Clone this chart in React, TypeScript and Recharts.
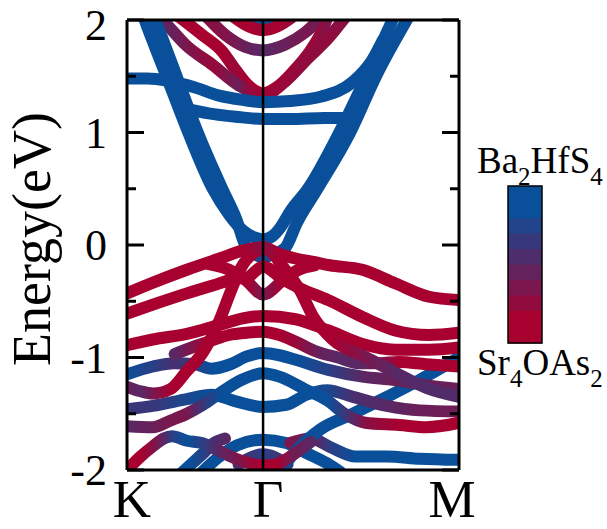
import React from 'react';
import { LineChart, Line, XAxis, YAxis, ReferenceLine } from 'recharts';

// point = [k-path position, energy (eV), Ba2HfS4 weight (0 = Sr4OAs2, 1 = Ba2HfS4)]
type P = [number, number, number];

const kTicks = [0, 1, 2.44];
const kLabels = ['K', 'Γ', 'M'];
const eTicks = [-2, -1.5, -1, -0.5, 0, 0.5, 1, 1.5, 2];
const colorbarWeights = [1, 6 / 7, 5 / 7, 4 / 7, 3 / 7, 2 / 7, 1 / 7, 0];

// conduction bands
const cbDiracA: P[] = [[0.115,2.05,1],[0.13,2.0,1],[0.29,1.5,1],[0.45,1.0,1],[0.63,0.5,1],[0.75,0.27,1],[0.85,0.13,1],[0.93,0.07,1],[1.0,0.05,1],[1.07,0.08,1],[1.13,0.16,1],[1.2,0.3,1],[1.33,0.5,1],[1.56,1.0,1],[1.76,1.5,1],[1.97,2.05,1]];
const cbDiracB: P[] = [[0.195,2.05,1],[0.21,2.0,1],[0.365,1.5,1],[0.52,1.0,1],[0.7,0.5,1],[0.8,0.24,1],[0.88,-0.03,1],[0.95,-0.09,0.9],[1.0,-0.11,0.75],[1.06,-0.09,0.9],[1.16,-0.03,1],[1.25,0.2,1],[1.4,0.5,1],[1.64,1.0,1],[1.83,1.5,1],[2.08,2.05,1]];
const cbFlatUp: P[] = [[0,1.48,1],[0.15,1.48,1],[0.3,1.46,1],[0.5,1.4,1],[0.67,1.33,1],[0.85,1.29,1],[1.0,1.27,1],[1.2,1.28,1],[1.43,1.32,1],[1.66,1.45,1],[1.8,1.64,1],[1.88,1.82,1]];
const cbFlatLow: P[] = [[0.47,1.2,1],[0.6,1.17,1],[0.8,1.14,1],[1.0,1.12,1],[1.2,1.12,1],[1.45,1.13,1],[1.62,1.13,1]];
const cbRed1: P[] = [[0.22,2.05,0.1],[0.3,1.95,0.45],[0.43,1.78,0.3],[0.63,1.6,0.1],[0.82,1.42,0.4],[0.9,1.37,0.1],[1.0,1.33,0.05],[1.16,1.45,0.1],[1.33,1.66,0.15],[1.48,1.84,0.15],[1.62,2.05,0.2]];
const cbRed2: P[] = [[0.36,2.05,0],[0.55,1.87,0],[0.7,1.72,0],[0.79,1.57,0.1],[0.89,1.42,0],[1.0,1.35,0],[1.12,1.42,0],[1.25,1.58,0.1],[1.36,1.75,0.1],[1.45,1.95,0.2],[1.48,2.05,0.3]];
const cbRedU1: P[] = [[0.57,2.05,0.2],[0.72,1.87,0.25],[0.87,1.76,0.4],[1.0,1.73,0.5],[1.16,1.78,0.4],[1.31,1.89,0.3],[1.45,2.05,0.4]];
const cbRedU2: P[] = [[0.76,2.05,0],[0.9,1.94,0],[1.0,1.91,0.05],[1.1,1.94,0],[1.24,2.05,0.1]];
const cbBlueTop: P[] = [[0.9,2.08,1],[1.0,1.99,1],[1.1,2.08,1]];

// valence bands
const vbA: P[] = [[0,-0.43,0],[0.2,-0.33,0],[0.44,-0.22,0],[0.68,-0.12,0],[0.85,-0.05,0],[1.0,-0.02,0.2],[1.12,-0.08,0],[1.24,-0.12,0],[1.37,-0.15,0],[1.49,-0.18,0],[1.73,-0.22,0],[1.97,-0.34,0],[2.22,-0.46,0],[2.44,-0.49,0]];
const vbSteep: P[] = [[0,-1.26,0.4],[0.1,-1.3,0.5],[0.19,-1.32,0.3],[0.32,-1.28,0],[0.44,-1.12,0],[0.56,-0.95,0],[0.68,-0.67,0],[0.76,-0.42,0],[0.83,-0.22,0],[0.93,-0.07,0],[1.0,-0.03,0],[1.07,-0.07,0],[1.125,-0.16,0],[1.27,-0.4,0],[1.37,-0.64,0],[1.51,-0.84,0],[1.76,-1.0,0.3],[1.95,-1.12,0.5],[2.2,-1.27,0.55],[2.44,-1.35,0.55]];
const vbB: P[] = [[0,-0.61,0],[0.19,-0.53,0],[0.44,-0.43,0],[0.63,-0.36,0],[0.8,-0.3,0],[0.88,-0.29,0],[1.0,-0.19,0],[1.14,-0.3,0],[1.28,-0.39,0],[1.48,-0.49,0],[1.73,-0.64,0],[1.97,-0.76,0],[2.22,-0.8,0],[2.44,-0.78,0]];
const vbV: P[] = [[0.6,-0.17,0],[0.75,-0.22,0],[0.87,-0.31,0],[1.0,-0.44,0.3],[1.15,-0.31,0],[1.26,-0.22,0],[1.38,-0.18,0]];
const vbC: P[] = [[0,-0.89,0],[0.19,-0.84,0],[0.44,-0.79,0],[0.68,-0.71,0],[0.86,-0.65,0],[1.0,-0.63,0],[1.24,-0.66,0],[1.48,-0.76,0],[1.73,-0.88,0],[1.97,-0.93,0],[2.22,-0.93,0],[2.44,-0.91,0]];
const vbD: P[] = [[0.35,-0.97,0.5],[0.5,-0.9,0.2],[0.62,-0.85,0],[0.75,-0.8,0],[0.88,-0.78,0],[1.0,-0.77,0],[1.12,-0.8,0],[1.24,-0.86,0.1],[1.4,-0.95,0.4],[1.55,-1.0,0.5],[1.7,-1.05,0.5],[1.85,-1.05,0.3],[2.0,-1.04,0],[2.2,-1.06,0],[2.44,-1.08,0]];
const vbBlue1: P[] = [[0,-1.15,1],[0.19,-1.08,0.8],[0.35,-1.05,0.6],[0.5,-1.06,0.8],[0.62,-1.1,1],[0.76,-1.06,1],[0.88,-0.99,1],[1.0,-0.96,1],[1.12,-0.98,1],[1.24,-1.02,1],[1.48,-1.11,0.8],[1.73,-1.17,0.5],[1.97,-1.2,0.4],[2.22,-1.25,0.4],[2.44,-1.28,0.4]];
const vbBlue2: P[] = [[0,-1.61,0.5],[0.19,-1.62,0.4],[0.32,-1.56,0.3],[0.44,-1.5,0.3],[0.56,-1.42,0.7],[0.68,-1.32,1],[0.84,-1.2,1],[1.0,-1.14,1],[1.12,-1.17,1],[1.32,-1.29,1],[1.47,-1.38,1],[1.6,-1.5,0.7],[1.75,-1.58,0.2],[2.0,-1.6,0],[2.2,-1.62,0],[2.44,-1.58,0]];
const vbValley: P[] = [[0,-1.46,0.7],[0.19,-1.43,0.7],[0.44,-1.37,0.9],[0.62,-1.33,1],[0.8,-1.39,1],[1.0,-1.44,1],[1.17,-1.42,1],[1.32,-1.33,1],[1.47,-1.29,0.9],[1.66,-1.35,0.6],[1.91,-1.43,0.5],[2.15,-1.47,0.4],[2.44,-1.48,0.35]];
const vbRiseM: P[] = [[1.1,-2.05,1],[1.25,-1.82,1],[1.42,-1.64,1],[1.66,-1.5,1],[1.91,-1.35,1],[2.15,-1.2,1],[2.44,-1.0,1]];
const vbLowK: P[] = [[0,-2.0,0],[0.1,-1.88,0],[0.19,-1.79,0.2],[0.27,-1.72,0.5],[0.33,-1.7,0.8],[0.44,-1.74,1],[0.55,-1.76,0.8],[0.66,-1.82,0.5],[0.8,-1.9,0.3],[0.9,-1.94,0.1],[1.0,-1.96,0],[1.1,-1.95,0],[1.2,-1.88,0.3],[1.35,-1.75,0.5]];
const vbLowHill: P[] = [[0.55,-2.02,1],[0.68,-1.88,1],[0.81,-1.78,1],[1.0,-1.73,1],[1.17,-1.76,1],[1.32,-1.85,1],[1.47,-1.94,1],[1.57,-2.02,1]];
const vbLowSteep: P[] = [[0.38,-2.05,1],[0.47,-1.95,1],[0.57,-1.84,0.8],[0.64,-1.76,0.6],[0.72,-1.72,0.5]];
const vbThin: P[] = [[0.82,-1.95,0.6],[1.0,-1.86,0.8],[1.18,-1.95,0.6]];
const vbFlatM: P[] = [[1.2,-1.76,0.3],[1.35,-1.72,0.4],[1.5,-1.8,0.8],[1.68,-1.88,1],[1.91,-1.88,1],[2.15,-1.9,1],[2.44,-1.91,1]];

const bands: P[][] = [
  cbBlueTop, cbRedU2, cbRedU1, cbRed2, cbRed1, cbFlatUp, cbFlatLow, cbDiracB, cbDiracA,
  vbLowHill, vbLowSteep, vbThin, vbFlatM, vbRiseM, vbLowK, vbValley, vbBlue2, vbBlue1,
  vbD, vbC, vbV, vbB, vbSteep, vbA,
];

const RED = [168, 0, 47];
const BLUE = [10, 79, 154];
const mix = (w: number) => {
  const c = RED.map((r, i) => Math.round(r + (BLUE[i] - r) * w));
  return `rgb(${c[0]},${c[1]},${c[2]})`;
};

const FONT = '"Liberation Serif", "Times New Roman", serif';
const TICK_FONT = 44;

const LeftTick = (props: any) => {
  const { x, y, payload } = props;
  const v = payload.value as number;
  const major = Number.isInteger(v);
  // keep the label's box inside the picture
  const baseline = Math.max(y + 15, TICK_FONT * 0.9);
  return (
    <g>
      <line x1={x} x2={x + (major ? 17 : 9)} y1={y} y2={y} stroke="#000" strokeWidth={3} />
      {major && (
        <text x={x - 20} y={baseline} textAnchor="end" fontSize={TICK_FONT} fontFamily={FONT} fill="#000">
          {String(v)}
        </text>
      )}
    </g>
  );
};

const RightTick = (props: any) => {
  const { x, y, payload } = props;
  const major = Number.isInteger(payload.value);
  return <line x1={x - (major ? 17 : 9)} x2={x} y1={y} y2={y} stroke="#000" strokeWidth={3} />;
};

const labelShift = [5, 5, -7];
const BottomTick = (props: any) => {
  const { x, y, payload } = props;
  const i = kTicks.indexOf(payload.value);
  return (
    <text x={x + labelShift[i]} y={y + 47} textAnchor="middle" fontSize={53} fontFamily={FONT} fill="#000">
      {kLabels[i]}
    </text>
  );
};

const EnergyLabel = (props: any) => {
  const vb = props.viewBox;
  const cx = vb.x + 50;
  const cy = vb.y + vb.height / 2 - 6;
  return (
    <text transform={`translate(${cx},${cy}) rotate(-90)`} textAnchor="middle" fontSize={54} fontFamily={FONT} fill="#000">
      Energy(eV)
    </text>
  );
};

const ColorBar = (props: any) => {
  const vb = props.viewBox;
  const x0 = vb.x + 49;
  const top = vb.y + 166;
  const heights = [32, 15.5, 15.5, 15.5, 15.5, 15.5, 15.5, 32];
  let acc = top;
  const rects = colorbarWeights.map((w, i) => {
    const r = <rect key={i} x={x0} y={acc} width={34} height={heights[i] + 0.5} fill={mix(w)} />;
    acc += heights[i];
    return r;
  });
  const tx = vb.x + 18;
  return (
    <g>
      {rects}
      <rect x={x0} y={top} width={34} height={acc - top} fill="none" stroke="#000" strokeWidth={1.5} />
      <text x={tx} y={vb.y + 153} fontSize={37} fontFamily={FONT} fill="#000">
        Ba<tspan fontSize={25} dy={12}>2</tspan>
        <tspan dy={-12}>HfS</tspan>
        <tspan fontSize={25} dy={12}>4</tspan>
      </text>
      <text x={tx} y={vb.y + 355} fontSize={37} fontFamily={FONT} fill="#000">
        Sr<tspan fontSize={25} dy={12}>4</tspan>
        <tspan dy={-12}>OAs</tspan>
        <tspan fontSize={25} dy={12}>2</tspan>
      </text>
    </g>
  );
};

export default function App() {
  return (
    <div style={{ position: 'fixed', left: 0, top: 0, width: 607, height: 529, background: '#fff' }}>
      <LineChart width={607} height={529} margin={{ top: 20, right: 0, bottom: 0, left: 0 }}>
        <defs>
          {bands.map((b, i) => {
            const k0 = b[0][0];
            const k1 = b[b.length - 1][0];
            return (
              <linearGradient key={i} id={`band${i}`} x1="0" y1="0" x2="1" y2="0">
                {b.map((p, j) => (
                  <stop key={j} offset={(p[0] - k0) / (k1 - k0)} stopColor={mix(p[2])} />
                ))}
              </linearGradient>
            );
          })}
        </defs>
        <XAxis
          type="number"
          dataKey="k"
          domain={[0, 2.44]}
          ticks={kTicks}
          allowDataOverflow
          interval={0}
          height={59}
          tickSize={0}
          tickMargin={0}
          tickLine={false}
          axisLine={{ stroke: '#000', strokeWidth: 3 }}
          tick={<BottomTick />}
        />
        <YAxis
          yAxisId="l"
          type="number"
          domain={[-2, 2]}
          ticks={eTicks}
          allowDataOverflow
          interval={0}
          width={127}
          tickSize={0}
          tickMargin={0}
          tickLine={false}
          axisLine={{ stroke: '#000', strokeWidth: 3 }}
          tick={<LeftTick />}
          label={{ content: <EnergyLabel /> }}
        />
        <YAxis
          yAxisId="r"
          orientation="right"
          type="number"
          domain={[-2, 2]}
          ticks={eTicks}
          allowDataOverflow
          interval={0}
          width={148}
          tickSize={0}
          tickMargin={0}
          tickLine={false}
          axisLine={{ stroke: '#000', strokeWidth: 3 }}
          tick={<RightTick />}
          label={{ content: <ColorBar /> }}
        />
        {bands.map((b, i) => (
          <Line
            key={i}
            yAxisId="l"
            data={b.map((p) => ({ k: p[0], e: p[1] }))}
            dataKey="e"
            type="monotone"
            stroke={`url(#band${i})`}
            strokeWidth={12}
            strokeLinecap="round"
            strokeLinejoin="round"
            dot={false}
            activeDot={false}
            isAnimationActive={false}
          />
        ))}
        <ReferenceLine yAxisId="l" x={1} stroke="#000" strokeWidth={2.5} />
        <ReferenceLine yAxisId="l" y={2} stroke="#000" strokeWidth={3} />
      </LineChart>
    </div>
  );
}
